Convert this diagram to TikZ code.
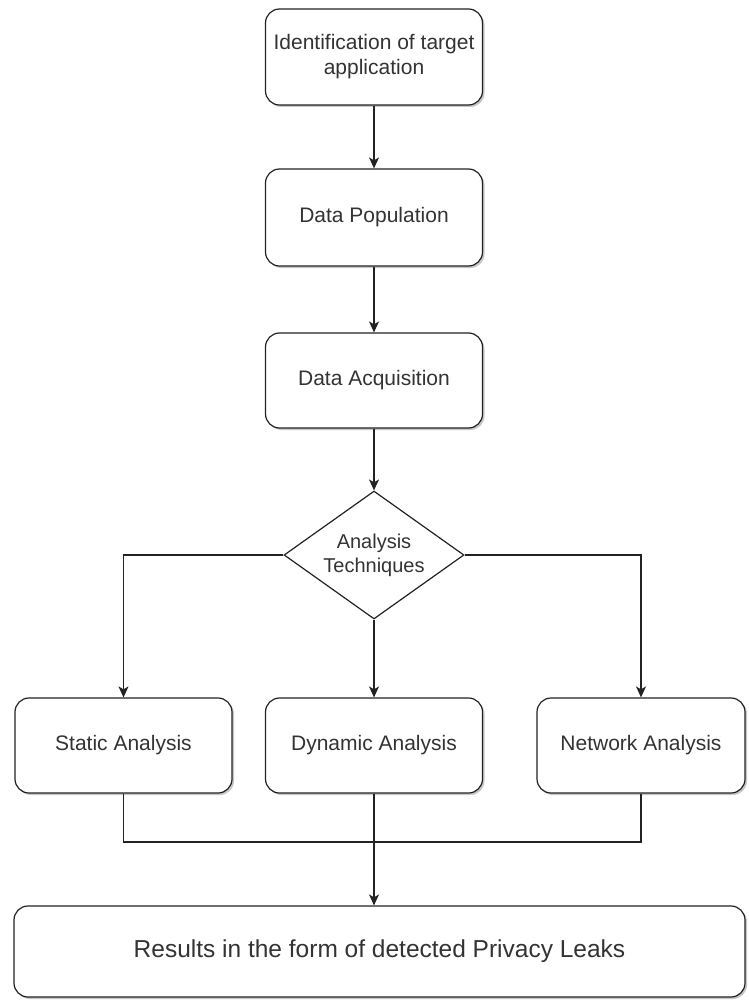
\documentclass[tikz,border=0pt]{standalone}
\usepackage{fontspec}
\setmainfont{Liberation Sans}
\usetikzlibrary{arrows.meta,shapes.geometric,shadows}
\definecolor{linec}{HTML}{222222}
\definecolor{textc}{HTML}{333333}
\begin{document}
\begin{tikzpicture}[x=1pt,y=-1pt,
  every shadow/.style={fill=black,opacity=0.22},
  box/.style={draw=linec, line width=1.2pt, rounded corners=14pt, fill=white,
    inner sep=2pt, align=center, text=textc,
    font=\fontsize{21}{25}\selectfont,
    drop shadow={shadow xshift=2pt,shadow yshift=-2pt}},
  decision/.style={draw=linec, line width=1.2pt, diamond, fill=white, aspect=1.4,
    inner sep=0pt, minimum width=180pt, minimum height=128pt, align=center,
    text=textc, font=\fontsize{20}{24}\selectfont},
  conn/.style={draw=linec, line width=1.2pt},
  arr/.style={conn, -{Stealth[length=11pt,width=10pt,inset=3pt]}}
]
\useasboundingbox (0,0) rectangle (748,1000);

\node[box, minimum width=217pt, minimum height=96pt] (b1) at (374,57) {Identification of target\\application};
\node[box, minimum width=217pt, minimum height=97pt] (b2) at (374,217.5) {Data Population};
\node[box, minimum width=217pt, minimum height=95pt] (b3) at (374,380.5) {Data Acquisition};
\node[decision] (dec) at (374,555) {Analysis\\Techniques};
\node[box, minimum width=217pt, minimum height=95pt] (sa) at (123.5,745.5) {Static Analysis};
\node[box, minimum width=217pt, minimum height=95pt] (da) at (374,745.5) {Dynamic Analysis};
\node[box, minimum width=208pt, minimum height=95pt] (na) at (641,745.5) {Network Analysis};
\node[box, minimum width=731pt, minimum height=91pt, font=\fontsize{24.5}{28}\selectfont] (res) at (379.5,951.5) {Results in the form of detected Privacy Leaks};

\coordinate (m) at (374,842);

\draw[arr] (b1) -- (b2);
\draw[arr] (b2) -- (b3);
\draw[arr] (b3) -- (dec);
\draw[arr] (dec.west) -| (sa.north);
\draw[arr] (dec.east) -| (na.north);
\draw[arr] (dec.south) -- (da.north);
\draw[conn] (sa.south) |- (m) -| (na.south);
\draw[arr] (da.south) -- (da.south |- res.north);
\end{tikzpicture}
\end{document}
